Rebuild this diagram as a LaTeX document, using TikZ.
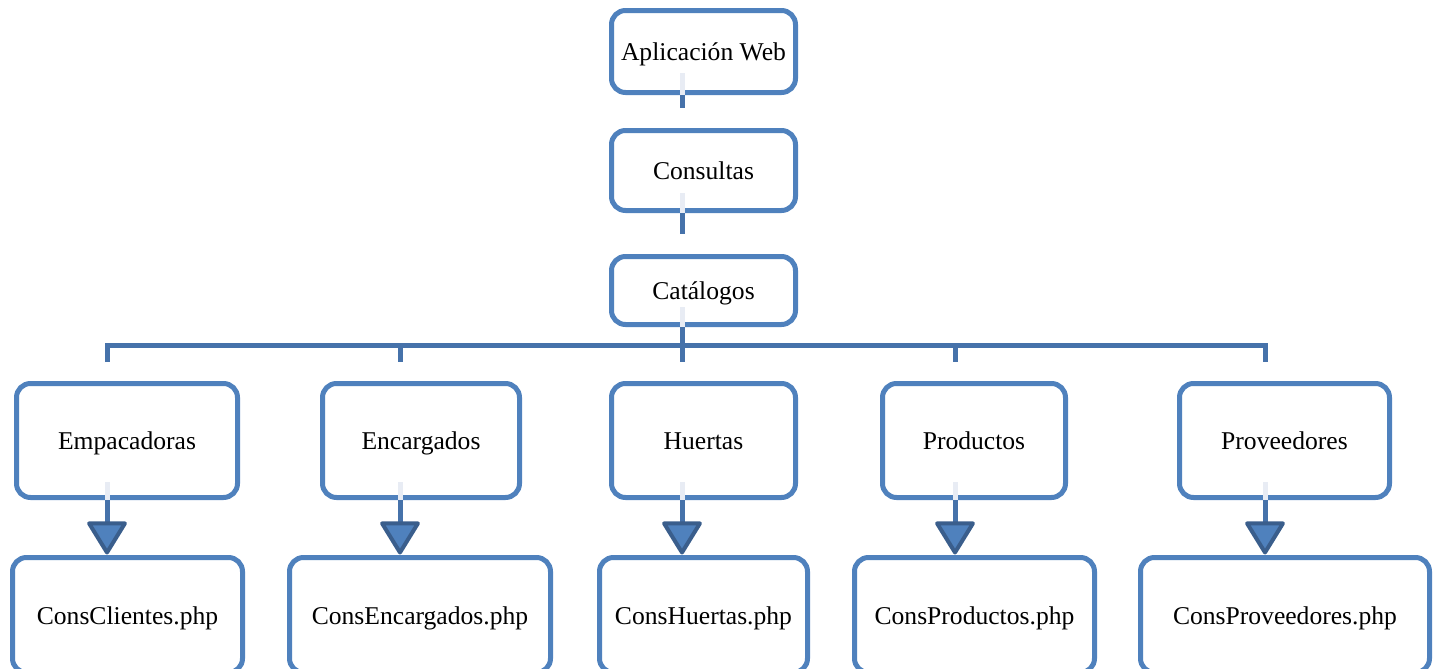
\documentclass[tikz,border=0pt]{standalone}
\usepackage{fontspec}
\setmainfont{Liberation Serif}
\usetikzlibrary{arrows.meta}
\definecolor{boxblue}{RGB}{79,129,189}
\definecolor{linkblue}{RGB}{70,114,170}
\definecolor{tipblue}{RGB}{58,94,140}
\definecolor{paleblue}{RGB}{232,236,244}

\begin{document}
\begin{tikzpicture}[x=0.5pt,y=-0.5pt]
\useasboundingbox (0,0) rectangle (1442,669);
\clip (0,0) rectangle (1442,669);
   \tikzstyle{every node}=[draw=boxblue,line width=2.5pt,rounded corners=7pt,fill=white,inner sep=0pt,text height=10pt,text depth=1pt,font=\fontsize{12.8}{15}\selectfont]
   \tikzstyle{mid}=[minimum height=57pt]
   \tikzstyle{low}=[minimum height=57.5pt]
   \tikzstyle{link}=[draw=linkblue,line width=2.5pt]
   \tikzstyle{faint}=[draw=paleblue,line width=2.5pt]
   \tikzstyle{arr}=[link,shorten >=0.25pt,-{Triangle[length=17.5pt,width=21pt,round,fill=boxblue,color=tipblue,line width=2pt]}]

\node[minimum width=92pt,minimum height=41pt](app) at (703.5,51.5) {Aplicación Web};
\node[minimum width=92pt,minimum height=40pt](cons) at (703.5,170.5) {Consultas};
\node[minimum width=92pt,minimum height=34pt](cat) at (703.5,290.5) {Catálogos};

\node[mid,minimum width=110.5pt](emp) at (127,440.5) {Empacadoras};
\node[mid,minimum width=98.5pt](enc) at (421,440.5) {Encargados};
\node[mid,minimum width=92pt](hue) at (703.5,440.5) {Huertas};
\node[mid,minimum width=91.5pt](pro) at (974,440.5) {Productos};
\node[mid,minimum width=105pt](prv) at (1284.5,440.5) {Proveedores};

\node[low,minimum width=115pt](ccl) at (127.5,615) {ConsClientes.php};
\node[low,minimum width=130.5pt](cenc) at (420,615) {ConsEncargados.php};
\node[low,minimum width=104pt](chue) at (703.5,615) {ConsHuertas.php};
\node[low,minimum width=120pt](cpro) at (974.5,615) {ConsProductos.php};
\node[low,minimum width=144.5pt](cprv) at (1285,615) {ConsProveedores.php};

\draw[faint] (682,73) -- (app.south -| 682,0);
\draw[link] (app.south -| 682,0) -- (682,108);
\draw[faint] (682,193) -- (cons.south -| 682,0);
\draw[link] (cons.south -| 682,0) -- (682,234);
\draw[faint] (682,307) -- (cat.south -| 682,0);
\draw[link] (cat.south -| 682,0) -- (682,362);
\draw[link] (107,362) -- (107,345) -- (1265,345) -- (1265,362);
\draw[link] (400,345) -- (400,362) (955,345) -- (955,362);

\foreach \a/\b/\x in {emp/ccl/107,enc/cenc/400,hue/chue/682,pro/cpro/955,prv/cprv/1265}{
  \draw[faint] (\x,482) -- (\a.south -| \x,0);
  \draw[arr] (\a.south -| \x,0) -- (\b.north -| \x,0);
}
\end{tikzpicture}
\end{document}
